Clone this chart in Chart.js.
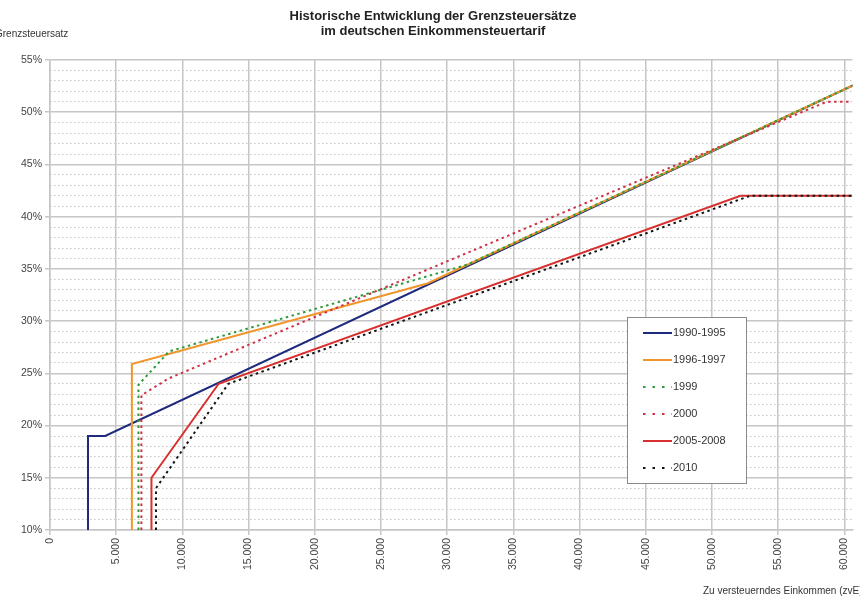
<!DOCTYPE html>
<html>
<head>
<meta charset="utf-8">
<script src="https://cdn.jsdelivr.net/npm/chart.js@4.4.1/dist/chart.umd.min.js"></script>
<style>
  html, body { margin: 0; padding: 0; background: #fff; }
  #wrap { width: 860px; height: 603px; position: relative; }
</style>
</head>
<body>
<div id="wrap"><canvas id="chart"></canvas></div>
<script>
// Grenzsteuersätze: zvE in Euro, Satz in Prozent (Knickpunkte der Tarife)
const seriesLabels = ['1990-1995', '1996-1997', '1999', '2000', '2005-2008', '2010'];

const zvE1990 = [2871, 2871, 4168, 61377];
const satz1990 = [10, 19, 19, 53];

const zvE1996 = [6184, 6184, 28493, 61377];
const satz1996 = [10, 25.9, 33.6, 53];

const zvE1999 = [6681, 6681, 9000, 31500, 61377];
const satz1999 = [10, 23.9, 27.1, 35.4, 53];

const zvE2000 = [6902, 6902, 8945, 58643, 60600];
const satz2000 = [10, 22.9, 24.5, 51, 51];

const zvE2005 = [7664, 7664, 12739, 52151, 60600];
const satz2005 = [10, 15, 24, 42, 42];

const zvE2010 = [8004, 8004, 13469, 52881, 60600];
const satz2010 = [10, 14, 24, 42, 42];

const xTicks = [0, 5000, 10000, 15000, 20000, 25000, 30000, 35000, 40000, 45000, 50000, 55000, 60000];
const yTicks = [10, 15, 20, 25, 30, 35, 40, 45, 50, 55];

const titleLines = ['Historische Entwicklung der Grenzsteuersätze', 'im deutschen Einkommensteuertarif'];
const yTitle = 'Grenzsteuersatz';
const xTitle = 'Zu versteuerndes Einkommen (zvE)';

const FONT = "'Liberation Sans', Arial, sans-serif";

function pts(xs, ys) {
  return xs.map((x, i) => ({ x: x, y: ys[i] }));
}

function fmtTsd(v) {
  return String(v).replace(/\B(?=(\d{3})+(?!\d))/g, '.');
}

const styles = [
  { color: '#1e2a7c', dash: [] },
  { color: '#f0962c', dash: [] },
  { color: '#2f9a3a', dash: [2.5, 3.5] },
  { color: '#cf3147', dash: [2.5, 3.5] },
  { color: '#d8302e', dash: [] },
  { color: '#141414', dash: [2.5, 3.5] }
];

const allData = [
  pts(zvE1990, satz1990),
  pts(zvE1996, satz1996),
  pts(zvE1999, satz1999),
  pts(zvE2000, satz2000),
  pts(zvE2005, satz2005),
  pts(zvE2010, satz2010)
];

const datasets = seriesLabels.map((lbl, i) => ({
  label: lbl,
  data: allData[i],
  borderColor: styles[i].color,
  backgroundColor: styles[i].color,
  borderDash: styles[i].dash,
  borderWidth: 2,
  pointRadius: 0,
  tension: 0,
  fill: false,
  order: seriesLabels.length - i
}));

// Titel, Achsentitel und Legende im Excel-Stil
const textPlugin = {
  id: 'texts',
  afterDraw(chart) {
    const ctx = chart.ctx;
    ctx.save();
    ctx.fillStyle = '#222';
    ctx.textBaseline = 'middle';
    ctx.textAlign = 'center';
    ctx.font = 'bold 13px ' + FONT;
    ctx.fillText(titleLines[0], 433, 16);
    ctx.fillText(titleLines[1], 433, 31);

    ctx.font = '10px ' + FONT;
    ctx.textAlign = 'left';
    ctx.fillStyle = '#333';
    ctx.fillText(yTitle, -5, 34);
    ctx.fillText(xTitle, 703, 591);

    // Legende
    const bx = 627, by = 317, bw = 119, bh = 166;
    ctx.fillStyle = '#fff';
    ctx.fillRect(bx, by, bw, bh);
    ctx.strokeStyle = '#8a8a8a';
    ctx.lineWidth = 1;
    ctx.strokeRect(bx + 0.5, by + 0.5, bw, bh);
    ctx.font = '11px ' + FONT;
    chart.data.datasets.forEach((ds, i) => {
      const y = by + 16 + i * 27;
      ctx.beginPath();
      ctx.setLineDash(ds.borderDash.length ? [2.5, 7] : []);
      ctx.strokeStyle = ds.borderColor;
      ctx.lineWidth = 2;
      ctx.moveTo(643, y);
      ctx.lineTo(672, y);
      ctx.stroke();
      ctx.setLineDash([]);
      ctx.fillStyle = '#333';
      ctx.fillText(ds.label, 673, y);
    });
    ctx.restore();
  }
};

const gridColor = '#c6c6c6';

new Chart(document.getElementById('chart'), {
  type: 'line',
  data: { datasets: datasets },
  plugins: [textPlugin],
  options: {
    responsive: true,
    maintainAspectRatio: false,
    animation: false,
    layout: { padding: { top: 60, left: 0, right: 0, bottom: 0 } },
    plugins: {
      legend: { display: false },
      title: { display: false },
      tooltip: { enabled: false }
    },
    scales: {
      x: {
        type: 'linear',
        min: 0,
        max: 60600,
        afterBuildTicks: s => { s.ticks = xTicks.map(v => ({ value: v })); },
        afterFit: s => { s.height = 73; },
        ticks: {
          autoSkip: false,
          minRotation: 90,
          maxRotation: 90,
          padding: 3,
          color: '#444',
          font: { family: FONT, size: 10.5 },
          callback: v => fmtTsd(v)
        },
        grid: { color: gridColor, lineWidth: 1.5, tickLength: 5 },
        border: { color: gridColor, width: 1.5 }
      },
      y: {
        type: 'linear',
        position: 'left',
        min: 10,
        max: 55,
        afterBuildTicks: s => { s.ticks = yTicks.map(v => ({ value: v })); },
        afterFit: s => { s.width = 50; },
        ticks: {
          padding: 3,
          color: '#444',
          font: { family: FONT, size: 10.5 },
          callback: v => v + '%'
        },
        grid: { color: gridColor, lineWidth: 1.5, tickLength: 5 },
        border: { color: gridColor, width: 1.5 }
      },
      yMinor: {
        type: 'linear',
        position: 'left',
        min: 10,
        max: 55,
        ticks: { display: false, stepSize: 1 },
        afterFit: s => { s.width = 0; },
        grid: {
          drawTicks: false,
          lineWidth: 1,
          color: c => (c.tick && c.tick.value % 5 === 0) ? 'rgba(0,0,0,0)' : '#c4c4c4'
        },
        border: { display: false, dash: [1.5, 2.5] }
      }
    }
  }
});
</script>
</body>
</html>
